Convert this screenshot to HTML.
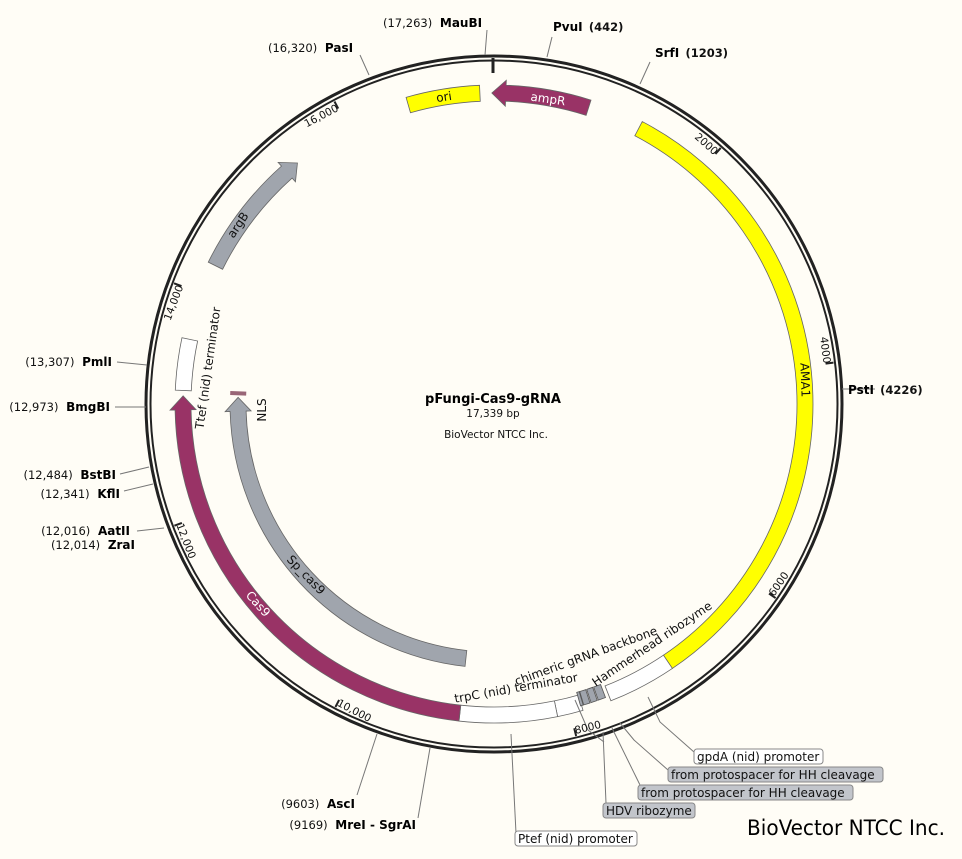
<!DOCTYPE html>
<html><head><meta charset="utf-8"><style>
html,body{margin:0;padding:0;background:#fffdf6;}
svg{display:block;font-family:"DejaVu Sans","Liberation Sans",sans-serif;}
.n{font-size:11.5px;fill:#111}
.b{font-size:12px;font-weight:bold;fill:#000}
.f{font-size:12px;fill:#111}
.t{font-size:10.5px;fill:#111}
</style></head><body>
<svg id="s" width="962" height="859" viewBox="0 0 962 859">
<rect width="962" height="859" fill="#fffdf6"/>
<g id="geo"></g>
<circle cx="494" cy="404" r="348" fill="none" stroke="#222" stroke-width="3"/>
<circle cx="494" cy="404" r="343.5" fill="none" stroke="#222" stroke-width="2"/>
<line x1="493" y1="58" x2="493" y2="73" stroke="#222" stroke-width="3"/>

<text class="f" x="444" y="101" text-anchor="middle" transform="rotate(-9 444 97)">ori</text>
<text class="f" x="548" y="103" text-anchor="middle" style="fill:#fff" transform="rotate(8 548 99)">ampR</text>
<text class="f" x="805" y="384" text-anchor="middle" transform="rotate(88 805 380)">AMA1</text>
<text class="f" x="258" y="608" text-anchor="middle" style="fill:#fff" transform="rotate(48 258 604)">Cas9</text>
<text class="f" x="306" y="579" text-anchor="middle" transform="rotate(46 306 575)">Sp_cas9</text>
<text class="f" x="238" y="229" text-anchor="middle" transform="rotate(-56 238 225)">argB</text>
<text class="f" x="208" y="372" text-anchor="middle" transform="rotate(-82 208 368)">Ttef (nid) terminator</text>
<text class="f" x="262" y="414" text-anchor="middle" transform="rotate(-90 262 410)">NLS</text>
<text class="f" x="516" y="692" text-anchor="middle" transform="rotate(-10 516 688)">trpC (nid) terminator</text>
<text class="f" x="586" y="660" text-anchor="middle" transform="rotate(-20 586 656)">chimeric gRNA backbone</text>
<text class="f" x="652" y="648" text-anchor="middle" transform="rotate(-34 652 644)">Hammerhead ribozyme</text>

<text x="493" y="403" text-anchor="middle" style="font-size:13px;font-weight:bold">pFungi-Cas9-gRNA</text>
<text x="493" y="417" text-anchor="middle" class="t">17,339 bp</text>
<text x="496" y="438" text-anchor="middle" class="t">BioVector NTCC Inc.</text>
<text x="945" y="835" text-anchor="end" style="font-size:21px;font-family:'DejaVu Sans Condensed','DejaVu Sans',sans-serif" textLength="198" lengthAdjust="spacingAndGlyphs" fill="#000">BioVector NTCC Inc.</text>

<g stroke="#777" stroke-width="1" fill="none">
<polyline points="487,30 485,55"/>
<polyline points="552,37 547,57"/>
<polyline points="650,62 640,84"/>
<polyline points="360,55 369,75"/>
<polyline points="842,389 875,389"/>
<polyline points="147,365 117,362"/>
<polyline points="146,407 115,407"/>
<polyline points="149,467 120,474"/>
<polyline points="153,484 124,491"/>
<polyline points="164,528 137,531"/>
<polyline points="377,734 357,795"/>
<polyline points="430,748 418,818"/>
</g>
<text x="383" y="27" class="n">(17,263) <tspan class="b" dx="4">MauBI</tspan></text>
<text x="553" y="31" class="b">PvuI <tspan class="n" dx="2">(442)</tspan></text>
<text x="655" y="57" class="b">SrfI <tspan class="n" dx="2">(1203)</tspan></text>
<text x="268" y="52" class="n">(16,320) <tspan class="b" dx="4">PasI</tspan></text>
<text x="848" y="394" class="b">PstI <tspan class="n" dx="2">(4226)</tspan></text>
<text x="112" y="366" text-anchor="end" class="n">(13,307) <tspan class="b" dx="4">PmlI</tspan></text>
<text x="110" y="411" text-anchor="end" class="n">(12,973) <tspan class="b" dx="4">BmgBI</tspan></text>
<text x="116" y="479" text-anchor="end" class="n">(12,484) <tspan class="b" dx="4">BstBI</tspan></text>
<text x="120" y="498" text-anchor="end" class="n">(12,341) <tspan class="b" dx="4">KflI</tspan></text>
<text x="130" y="535" text-anchor="end" class="n">(12,016) <tspan class="b" dx="4">AatII</tspan></text>
<text x="135" y="549" text-anchor="end" class="n">(12,014) <tspan class="b" dx="4">ZraI</tspan></text>
<text x="355" y="808" text-anchor="end" class="n">(9603) <tspan class="b" dx="4">AscI</tspan></text>
<text x="416" y="829" text-anchor="end" class="n">(9169) <tspan class="b" dx="4">MreI - SgrAI</tspan></text>

<g stroke="#777" stroke-width="1" fill="none">
<polyline points="511,734 516,833"/>
<polyline points="603,732 606,803"/>
<polyline points="612,728 640,785"/>
<polyline points="620,723 634,740 668,770"/>
<polyline points="648,697 660,722 694,752"/>
<polyline points="575,700 588,730 604,742"/>
</g>
<rect x="694" y="749" width="129" height="15" rx="3" fill="#fff" stroke="#888"/>
<text x="697" y="761" class="f">gpdA (nid) promoter</text>
<rect x="668" y="767" width="215" height="15" rx="3" fill="#c2c5cb" stroke="#888"/>
<text x="671" y="779" class="f">from protospacer for HH cleavage</text>
<rect x="638" y="785" width="215" height="15" rx="3" fill="#c2c5cb" stroke="#888"/>
<text x="641" y="797" class="f">from protospacer for HH cleavage</text>
<rect x="603" y="803" width="92" height="15" rx="3" fill="#c2c5cb" stroke="#888"/>
<text x="606" y="815" class="f">HDV ribozyme</text>
<rect x="515" y="831" width="122" height="15" rx="3" fill="#fff" stroke="#888"/>
<text x="518" y="843" class="f">Ptef (nid) promoter</text>

<g id="ticklab" class="t">
<text id="k2000">2000</text><text id="k4000">4000</text><text id="k6000">6000</text><text id="k8000">8000</text>
<text id="k10000">10,000</text><text id="k12000">12,000</text><text id="k14000">14,000</text><text id="k16000">16,000</text>
</g>
</svg>
<script>
var CX=494,CY=404,N=17339,NS="http://www.w3.org/2000/svg";
function pt(a,r){var t=a*Math.PI/180;return [CX+r*Math.sin(t),CY-r*Math.cos(t)];}
function P(p){return p[0].toFixed(2)+","+p[1].toFixed(2);}
function arcPath(a1,a2,r,w,head){
  var ro=r+w/2,ri=r-w/2,hl=14/r*180/Math.PI,ext=5;
  var b1=a1,b2=a2;
  if(head==1)b2=a2-hl; if(head==-1)b1=a1+hl;
  var lg=(b2-b1)>180?1:0,d="M"+P(pt(b1,ro))+" A"+ro+","+ro+" 0 "+lg+" 1 "+P(pt(b2,ro));
  if(head==1){d+=" L"+P(pt(b2,ro+ext))+" L"+P(pt(a2,r))+" L"+P(pt(b2,ri-ext));}
  d+=" L"+P(pt(b2,ri))+" A"+ri+","+ri+" 0 "+lg+" 0 "+P(pt(b1,ri));
  if(head==-1){d+=" L"+P(pt(b1,ri-ext))+" L"+P(pt(a1,r))+" L"+P(pt(b1,ro+ext));}
  return d+" Z";
}
var g=document.getElementById("geo");
function add(tag,at){var e=document.createElementNS(NS,tag);for(var k in at)e.setAttribute(k,at[k]);g.appendChild(e);return e;}
var feats=[
 [-16,-2.6,311,16,0,"#ffff00"],
 [-0.4,17.7,311,16,-1,"#993366"],
 [27.7,146,311,16,0,"#ffff00"],
 [146,158.5,311,16,0,"#ffffff"],
 [163.8,168.5,311,16,0,"#ffffff"],
 [168.5,186.3,311,16,0,"#ffffff"],
 [186.3,271.5,311,16,1,"#993366"],
 [272.5,282,311,16,0,"#ffffff"],
 [296.4,320.8,311,16,1,"#a0a5ad"],
 [186.3,271.5,256,16,1,"#a0a5ad"]
];
feats.forEach(function(f){add("path",{d:arcPath(f[0],f[1],f[2],f[3],f[4]),fill:f[5],stroke:"#666","stroke-width":"0.8"});});
[[159.2,160.6],[160.8,162.0],[162.2,163.4],[163.5,164.0]].forEach(function(f){add("path",{d:arcPath(f[0],f[1],307,14,0),fill:"#a0a5ad",stroke:"#555","stroke-width":"0.8"});});
var n1=pt(272.4,248),n2=pt(272.4,264);
add("line",{x1:n1[0],y1:n1[1],x2:n2[0],y2:n2[1],stroke:"#996677","stroke-width":"4"});
[2000,4000,6000,8000,10000,12000,14000,16000].forEach(function(b){
 var a=b/N*360,p1=pt(a,342),p2=pt(a,334);
 add("line",{x1:p1[0],y1:p1[1],x2:p2[0],y2:p2[1],stroke:"#222","stroke-width":"2"});
 var t=document.getElementById("k"+b),q=pt(a,336),rot,anc;
 if(a<100||a>270){rot=a>180?a-360:a;anc="end";}else{rot=a-180;anc="start";}
 t.setAttribute("x",q[0]);t.setAttribute("y",q[1]+4);t.setAttribute("text-anchor",anc);
 t.setAttribute("transform","rotate("+rot.toFixed(1)+" "+q[0].toFixed(1)+" "+q[1].toFixed(1)+")");
});
</script>
</body></html>
